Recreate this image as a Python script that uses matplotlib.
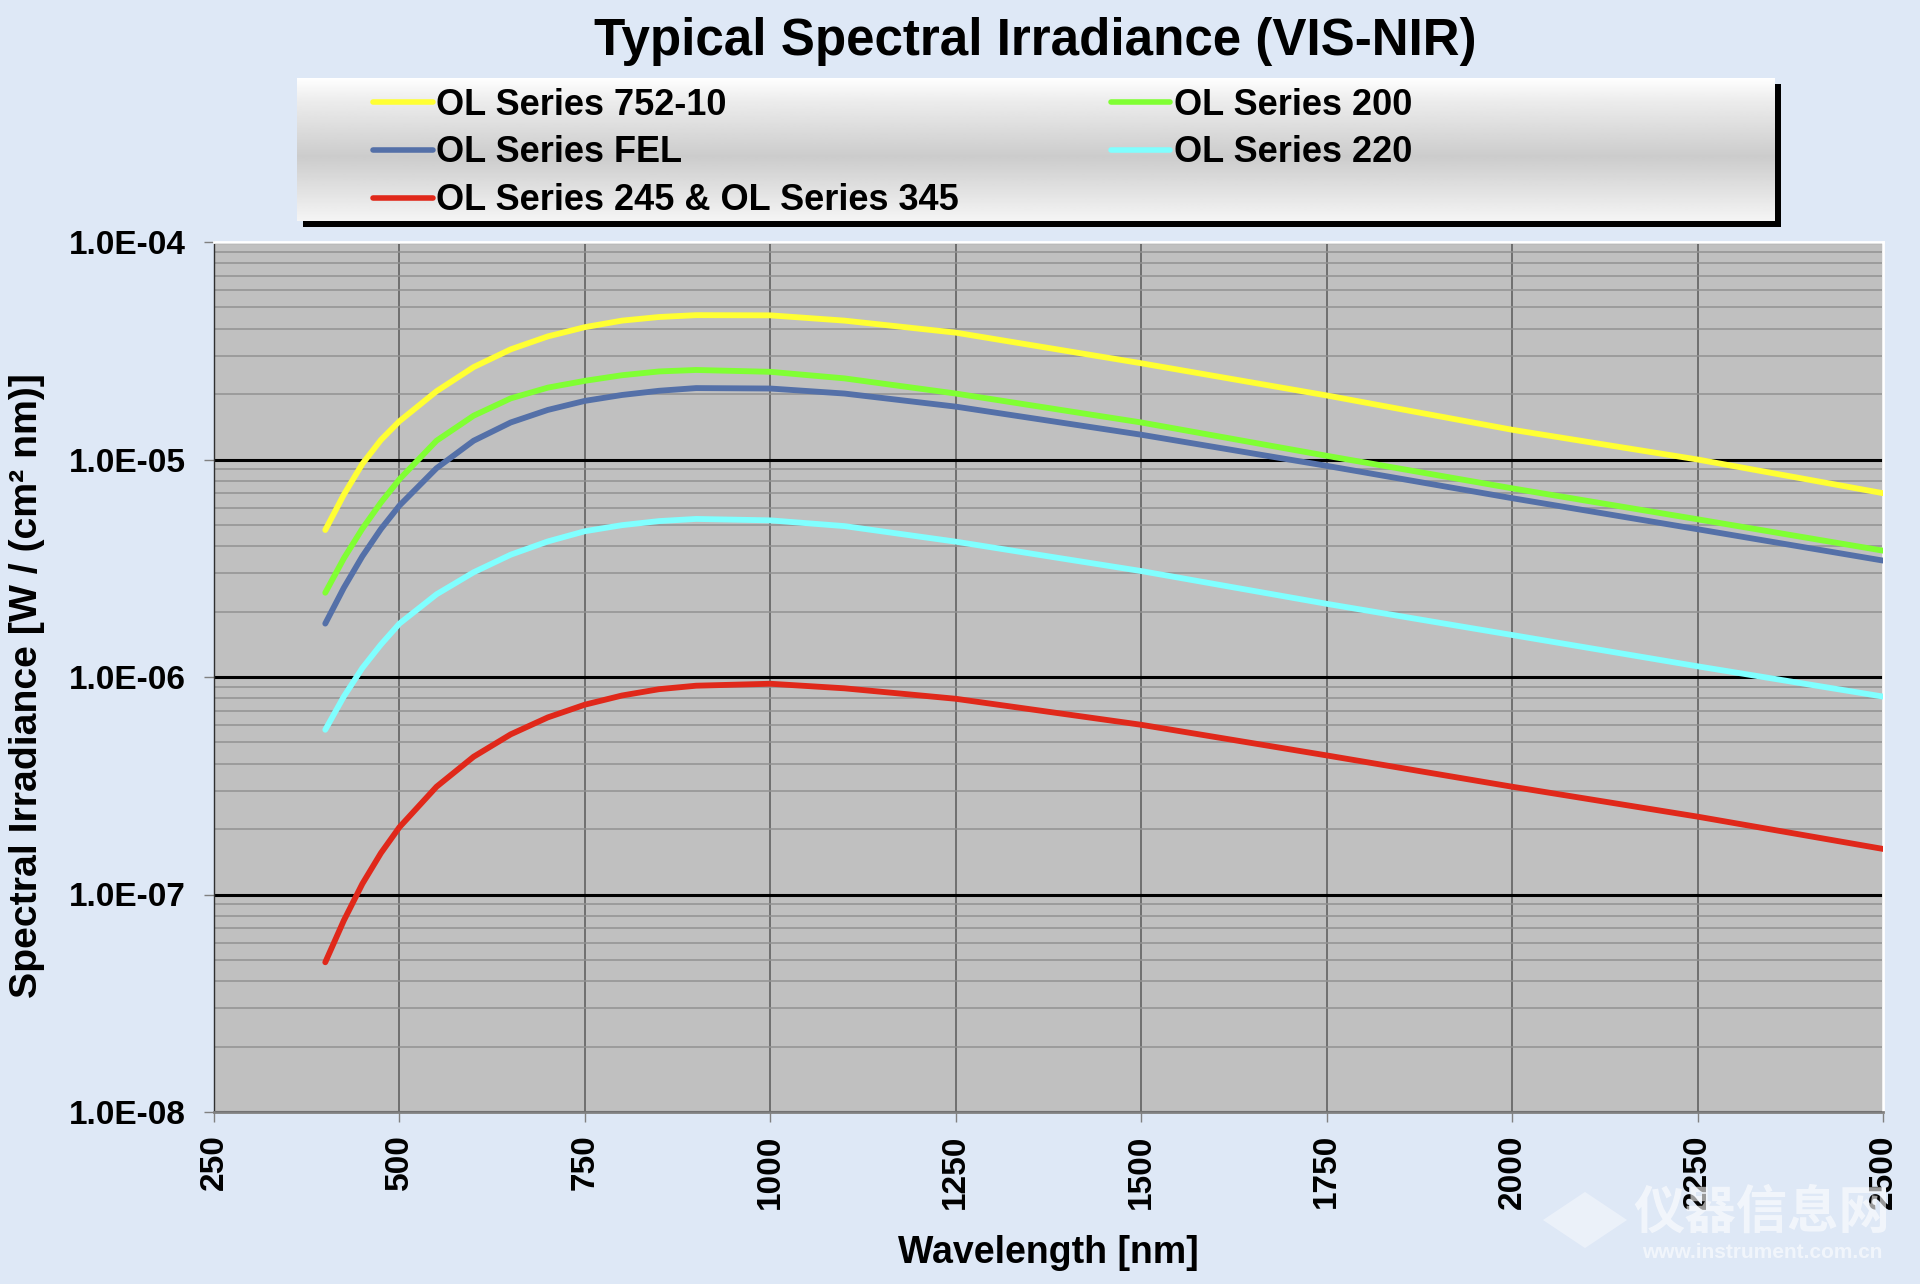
import matplotlib
matplotlib.use('Agg')
import matplotlib.pyplot as plt
import numpy as np
from matplotlib.ticker import FixedLocator, FuncFormatter, LogLocator, NullFormatter
from matplotlib.patches import Rectangle, RegularPolygon

plt.rcParams['font.family'] = ['Liberation Sans', 'DejaVu Sans']
plt.rcParams['font.weight'] = 'bold'

# wavelengths [nm]
wavelength = [400, 425, 450, 475, 500, 550, 600, 650, 700, 750, 800, 850, 900,
              1000, 1100, 1250, 1500, 1750, 2000, 2250, 2500]

# spectral irradiance [W / (cm2 nm)]
ol_752 = [4.74e-6, 6.89e-6, 9.55e-6, 1.23e-5, 1.50e-5, 2.06e-5, 2.66e-5, 3.21e-5, 3.68e-5,
          4.06e-5, 4.35e-5, 4.52e-5, 4.61e-5, 4.60e-5, 4.35e-5, 3.83e-5, 2.77e-5, 1.97e-5,
          1.37e-5, 1.0e-5, 7.0e-6]
ol_200 = [2.44e-6, 3.51e-6, 4.81e-6, 6.34e-6, 8.11e-6, 1.22e-5, 1.59e-5, 1.91e-5, 2.14e-5,
          2.30e-5, 2.44e-5, 2.54e-5, 2.58e-5, 2.53e-5, 2.36e-5, 2.01e-5, 1.48e-5, 1.04e-5,
          7.37e-6, 5.31e-6, 3.81e-6]
ol_fel = [1.76e-6, 2.57e-6, 3.59e-6, 4.79e-6, 6.14e-6, 9.12e-6, 1.22e-5, 1.48e-5, 1.69e-5,
          1.86e-5, 1.98e-5, 2.07e-5, 2.13e-5, 2.12e-5, 2.01e-5, 1.75e-5, 1.30e-5, 9.35e-6,
          6.64e-6, 4.78e-6, 3.43e-6]
ol_220 = [5.72e-7, 8.13e-7, 1.10e-6, 1.41e-6, 1.76e-6, 2.40e-6, 3.03e-6, 3.65e-6, 4.20e-6,
          4.68e-6, 4.99e-6, 5.21e-6, 5.33e-6, 5.25e-6, 4.94e-6, 4.19e-6, 3.07e-6, 2.17e-6,
          1.56e-6, 1.12e-6, 8.13e-7]
ol_245 = [4.88e-8, 7.59e-8, 1.12e-7, 1.55e-7, 2.04e-7, 3.13e-7, 4.30e-7, 5.45e-7, 6.52e-7,
          7.46e-7, 8.22e-7, 8.79e-7, 9.12e-7, 9.31e-7, 8.87e-7, 7.94e-7, 6.03e-7, 4.36e-7,
          3.13e-7, 2.28e-7, 1.62e-7]

x_ticks = [250, 500, 750, 1000, 1250, 1500, 1750, 2000, 2250, 2500]
y_ticks = [1e-8, 1e-7, 1e-6, 1e-5, 1e-4]

W, H = 1920, 1284
fig = plt.figure(figsize=(W / 100, H / 100), dpi=100)
fig.patch.set_facecolor('#dee8f6')

ax = fig.add_axes([214 / W, 1 - 1112 / H, (1883 - 214) / W, (1112 - 242) / H])
ax.set_facecolor('#c0c0c0')

series = [
    (ol_752, '#ffff33', 'OL Series 752-10'),
    (ol_fel, '#5470a8', 'OL Series FEL'),
    (ol_245, '#e0281a', 'OL Series 245 & OL Series 345'),
    (ol_200, '#80ff33', 'OL Series 200'),
    (ol_220, '#80ffff', 'OL Series 220'),
]
handles = []
for vals, col, lab in series:
    ln, = ax.plot(wavelength, vals, color=col, lw=4.2, solid_capstyle='round',
                  solid_joinstyle='round', label=lab, zorder=3)
    handles.append(ln)

ax.set_yscale('log')
ax.set_xlim(250, 2500)
ax.set_ylim(1e-8, 1e-4)
ax.xaxis.set_major_locator(FixedLocator(x_ticks))
ax.yaxis.set_major_locator(FixedLocator(y_ticks))
ax.yaxis.set_minor_locator(LogLocator(base=10, subs=np.arange(2, 10)))
ax.yaxis.set_minor_formatter(NullFormatter())
ax.yaxis.set_major_formatter(FuncFormatter(lambda v, p: '%.1E' % v))

ax.grid(which='major', axis='y', color='black', lw=2.2, zorder=1)
ax.grid(which='minor', axis='y', color='#929292', lw=1.1, zorder=1)
ax.grid(which='major', axis='x', color='#5a5a5a', lw=1.1, zorder=1)
ax.set_axisbelow(True)

ax.tick_params(axis='both', which='major', direction='out', length=7, width=1,
               color='#808080', labelsize=24)
ax.tick_params(axis='y', which='minor', length=0)
ax.tick_params(axis='x', pad=9, labelrotation=90)
ax.tick_params(axis='y', pad=13)
for lbl in ax.get_xticklabels() + ax.get_yticklabels():
    lbl.set_fontweight('bold')

ax.spines['top'].set_color('white')
ax.spines['right'].set_color('white')
ax.spines['top'].set_linewidth(2)
ax.spines['right'].set_linewidth(2)
ax.spines['left'].set_color('#303030')
ax.spines['left'].set_linewidth(1)
ax.spines['bottom'].set_color('#808080')
ax.spines['bottom'].set_linewidth(2)

ax.set_xlabel('Wavelength [nm]', fontsize=27, fontweight='bold', va='center')
ax.xaxis.set_label_coords(0.5, -0.162)
ax.set_ylabel('Spectral Irradiance [W / (cm² nm)]', fontsize=28.3, fontweight='bold',
              va='center')
ax.yaxis.set_label_coords(-0.112, 0.49)

fig.text(1035 / W, 1 - 55 / H, 'Typical Spectral Irradiance (VIS-NIR)', fontsize=36.8,
         fontweight='bold', ha='center', va='baseline')

# legend box with shadow and grey gradient
fig.patches.append(Rectangle((303 / W, 1 - 227 / H), (1781 - 303) / W, (227 - 84) / H,
                             transform=fig.transFigure, facecolor='black',
                             edgecolor='none', zorder=1))
lax = fig.add_axes([297 / W, 1 - 221 / H, (1775 - 297) / W, (221 - 78) / H], zorder=2)
grad = np.interp(np.linspace(0, 1, 200), [0, 0.15, 0.55, 1], [1.0, 0.93, 0.80, 0.96])
lax.imshow(np.tile(grad[:, None], (1, 2)), cmap='gray', vmin=0, vmax=1,
           aspect='auto', extent=[0, 1, 0, 1], interpolation='bilinear')
lax.set_axis_off()

leg = fig.legend(handles=handles, ncol=2, loc='center left',
                 bbox_to_anchor=(373 / W, 1 - 153 / H), frameon=False,
                 prop={'size': 26, 'weight': 'bold'}, handlelength=1.65,
                 handletextpad=0.1, columnspacing=4.2, labelspacing=0.35,
                 borderpad=0, borderaxespad=0)
leg.set_zorder(5)
for ln in leg.get_lines():
    ln.set_linewidth(4)

# watermark
fig.text(1762 / W, 1 - 1212 / H, '仪器信息网', fontsize=37, fontweight='bold',
         family=['Noto Sans CJK SC', 'DejaVu Sans'], color='white', alpha=0.6,
         ha='center', va='center')
fig.text(1762 / W, 1 - 1252 / H, 'www.instrument.com.cn', fontsize=15,
         color='white', alpha=0.6, ha='center', va='center')
fig.patches.append(RegularPolygon((1585 / W, 1 - 1220 / H), 4, radius=42 / W,
                                  orientation=0, transform=fig.transFigure,
                                  facecolor='white', alpha=0.4, edgecolor='none'))

fig.savefig('out.png', dpi=100, facecolor=fig.get_facecolor())
